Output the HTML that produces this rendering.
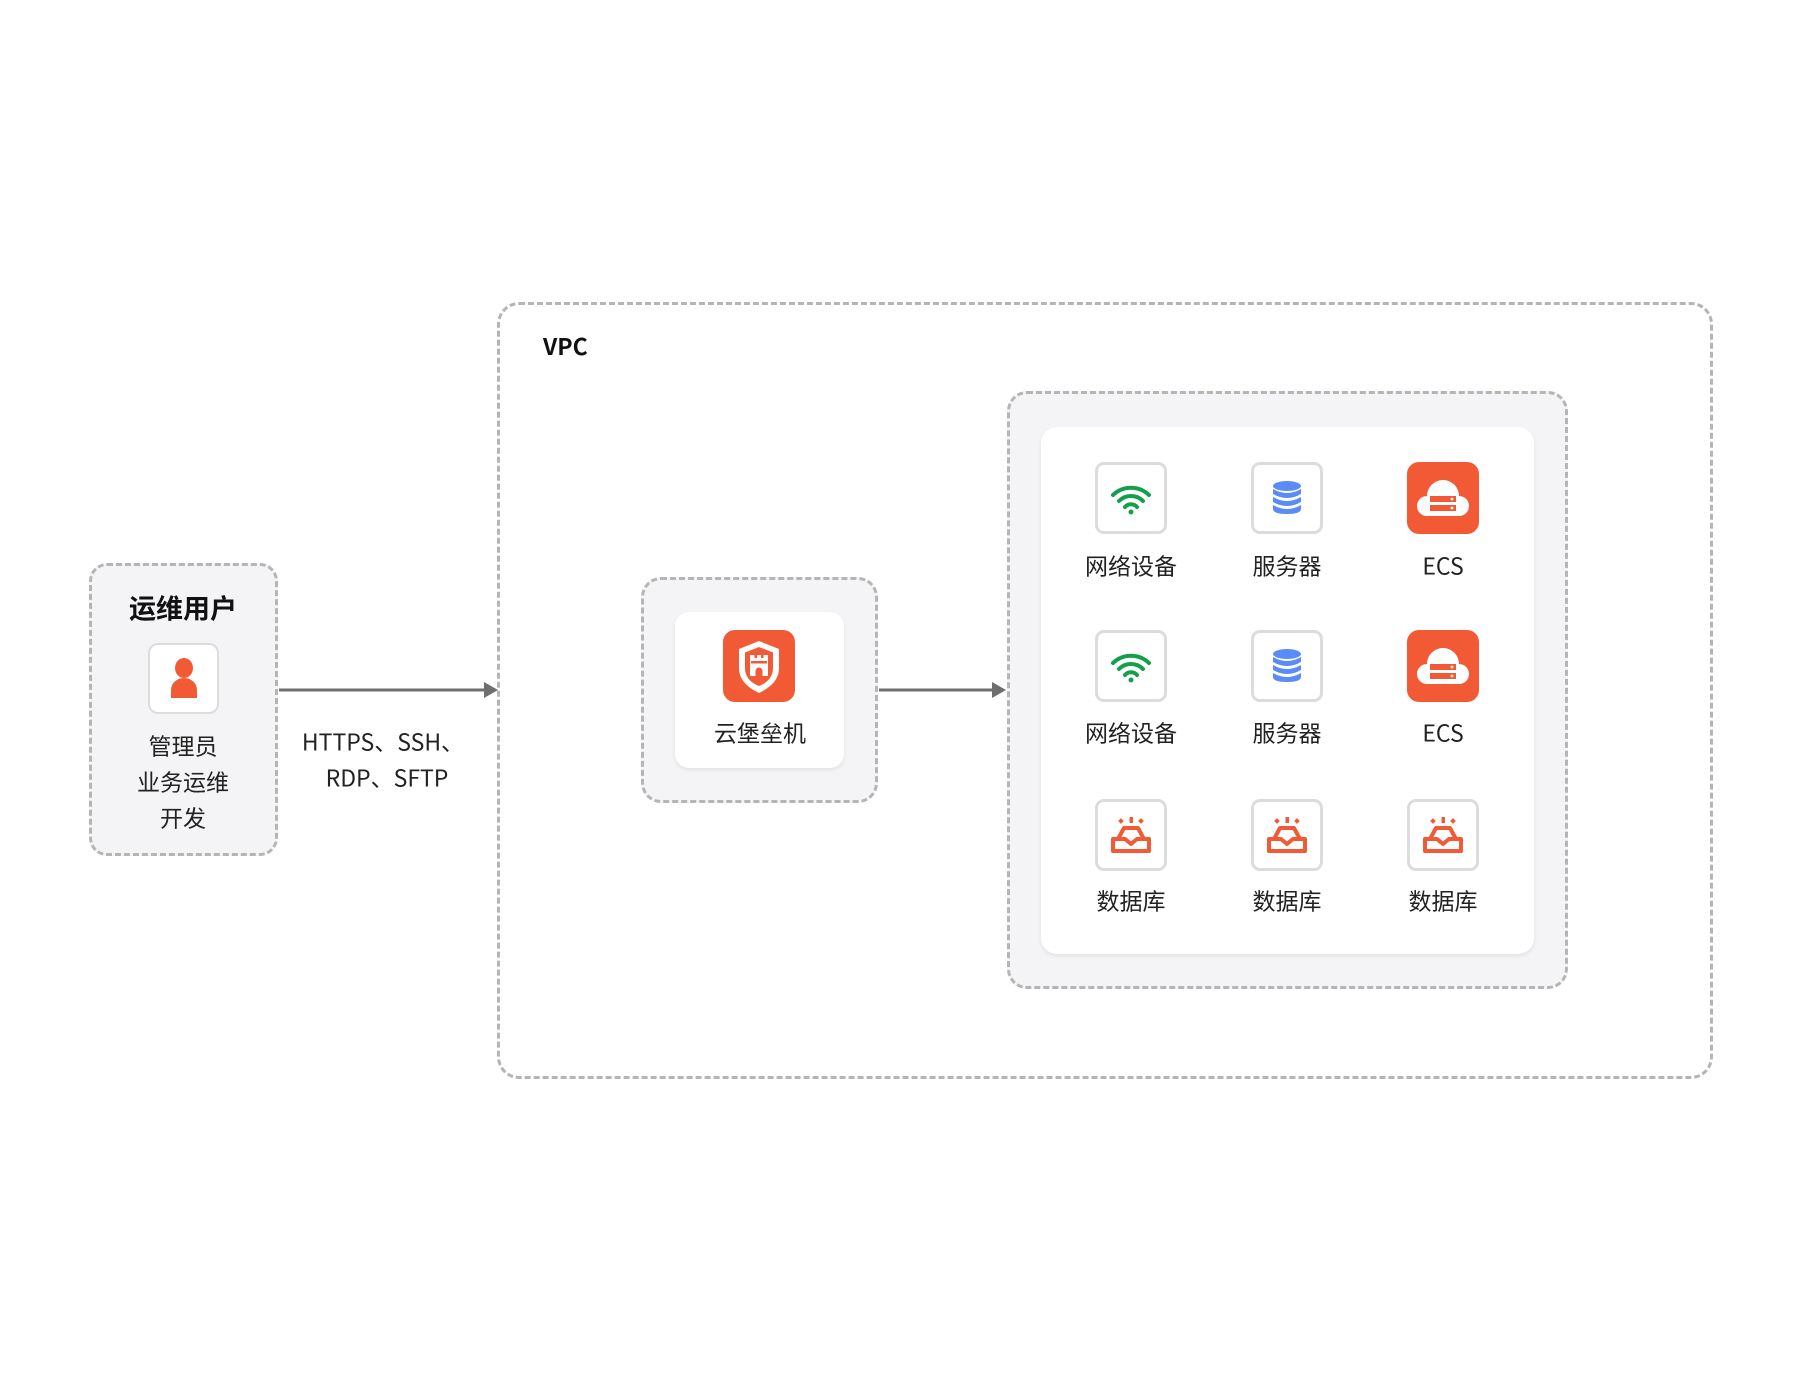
<!DOCTYPE html>
<html><head><meta charset="utf-8">
<style>
html,body{margin:0;padding:0;background:#fff;}
body{width:1800px;height:1380px;position:relative;overflow:hidden;font-family:"Noto Sans CJK SC","Liberation Sans",sans-serif;color:#222;}
.a{position:absolute;box-sizing:border-box;}
.dash{border:3px dashed #b5b5b5;}
.t{position:absolute;text-align:center;white-space:nowrap;transform:translate(-50%,-50%);font-size:23px;line-height:1;}
.ib{position:absolute;width:72px;height:72px;box-sizing:border-box;border:3px solid #dcdcdc;border-radius:9px;background:#fff;}
.ib svg,.io svg{position:absolute;left:-3px;top:-3px;}
.io{position:absolute;width:72px;height:72px;border-radius:12px;background:#f25a36;}
.io svg{left:0;top:0;}
</style></head><body>

<div class="a dash" style="left:89px;top:563px;width:189px;height:293px;border-radius:18px;background:#f4f4f6;"></div>
<div class="t" style="left:183px;top:607px;font-size:27px;font-weight:bold;color:#111;">运维用户</div>
<div class="ib" style="left:148px;top:643px;width:71px;height:71px;border-width:2px;border-radius:10px;">
<svg width="71" height="71" viewBox="0 0 71 71" style="left:-2px;top:-2px"><ellipse cx="36" cy="25" rx="9" ry="10" fill="#f25a36"/><path d="M23 55 V47 a13 12 0 0 1 26 0 V55 Z" fill="#f25a36"/></svg></div>
<div class="t" style="left:183px;top:745px;">管理员</div>
<div class="t" style="left:183px;top:781px;">业务运维</div>
<div class="t" style="left:183px;top:817px;">开发</div>

<svg class="a" style="left:0;top:0" width="1800" height="1380">
<line x1="279" y1="690" x2="487" y2="690" stroke="#6e6e6e" stroke-width="3"/>
<polygon points="484,682 498,690 484,698" fill="#6e6e6e"/>
<line x1="879" y1="690" x2="995" y2="690" stroke="#6e6e6e" stroke-width="3"/>
<polygon points="992,682 1006,690 992,698" fill="#6e6e6e"/>
</svg>
<div class="t" style="left:383px;top:741px;">HTTPS、SSH、</div>
<div class="t" style="left:387px;top:777px;">RDP、SFTP</div>

<div class="a dash" style="left:497px;top:302px;width:1216px;height:777px;border-radius:22px;"></div>
<div class="a" style="left:543px;top:334px;font-size:23px;font-weight:bold;color:#111;line-height:1;">VPC</div>

<div class="a dash" style="left:641px;top:577px;width:237px;height:226px;border-radius:20px;background:#f4f4f6;"></div>
<div class="a" style="left:675px;top:612px;width:169px;height:156px;border-radius:14px;background:#fff;box-shadow:0 2px 4px rgba(0,0,0,0.08);"></div>
<div class="io" style="left:723px;top:630px;width:72px;height:72px;">
<svg width="72" height="72" viewBox="0 0 72 72"><path d="M36 11 L56 19 V38 C56 51 46 58 36 63 C26 58 16 51 16 38 V19 Z" fill="#fff"/><path d="M36 17 L50 22.5 V38 C50 47 44 53 36 56 C28 53 22 47 22 38 V22.5 Z" fill="#f25a36"/><path d="M27 25 h4.5 v3 h2.5 v-3 h4 v3 h2.5 v-3 h4.5 v21 h-18 Z" fill="#fff"/><rect x="28" y="31" width="16" height="2.5" fill="#f25a36"/><path d="M32.5 46 v-5 a3.5 3.5 0 0 1 7 0 v5 Z" fill="#f25a36"/></svg></div>
<div class="t" style="left:760px;top:732px;">云堡垒机</div>

<div class="a dash" style="left:1007px;top:391px;width:561px;height:598px;border-radius:20px;background:#f4f4f6;"></div>
<div class="a" style="left:1041px;top:427px;width:493px;height:527px;border-radius:16px;background:#fff;box-shadow:0 2px 4px rgba(0,0,0,0.08);"></div>

<div class="ib" style="left:1095px;top:462px;"><svg width="72" height="72" viewBox="0 0 72 72"><g fill="none" stroke="#14a04a" stroke-width="4" stroke-linecap="round"><path d="M18 33 a26 26 0 0 1 36 0"/><path d="M24 39 a17 17 0 0 1 24 0"/><path d="M30 45 a8 8 0 0 1 12 0"/></g><circle cx="36" cy="50" r="2.5" fill="#14a04a"/></svg></div>
<div class="ib" style="left:1251px;top:462px;"><svg width="72" height="72" viewBox="0 0 72 72"><g fill="#5b8bf7"><ellipse cx="36" cy="24" rx="14" ry="5"/><path d="M22 27 q14 8 28 0 v5 q-14 8 -28 0Z"/><path d="M22 35 q14 8 28 0 v5 q-14 8 -28 0Z"/><path d="M22 43 q14 8 28 0 v4 q0 5 -14 5 q-14 0 -14 -5Z"/></g></svg></div>
<div class="io" style="left:1407px;top:462px;"><svg width="72" height="72" viewBox="0 0 72 72"><path d="M20 54 a10 10 0 0 1 0 -20 a16 16 0 0 1 32 0 a10 10 0 0 1 0 20 Z" fill="#fff"/><rect x="23" y="34" width="26" height="6" fill="#f25a36"/><rect x="23" y="43" width="26" height="6" fill="#f25a36"/><circle cx="45" cy="37" r="1.4" fill="#fff"/><circle cx="45" cy="46" r="1.4" fill="#fff"/></svg></div>
<div class="t" style="left:1131px;top:565px;">网络设备</div>
<div class="t" style="left:1287px;top:565px;">服务器</div>
<div class="t" style="left:1443px;top:565px;">ECS</div>

<div class="ib" style="left:1095px;top:630px;"><svg width="72" height="72" viewBox="0 0 72 72"><g fill="none" stroke="#14a04a" stroke-width="4" stroke-linecap="round"><path d="M18 33 a26 26 0 0 1 36 0"/><path d="M24 39 a17 17 0 0 1 24 0"/><path d="M30 45 a8 8 0 0 1 12 0"/></g><circle cx="36" cy="50" r="2.5" fill="#14a04a"/></svg></div>
<div class="ib" style="left:1251px;top:630px;"><svg width="72" height="72" viewBox="0 0 72 72"><g fill="#5b8bf7"><ellipse cx="36" cy="24" rx="14" ry="5"/><path d="M22 27 q14 8 28 0 v5 q-14 8 -28 0Z"/><path d="M22 35 q14 8 28 0 v5 q-14 8 -28 0Z"/><path d="M22 43 q14 8 28 0 v4 q0 5 -14 5 q-14 0 -14 -5Z"/></g></svg></div>
<div class="io" style="left:1407px;top:630px;"><svg width="72" height="72" viewBox="0 0 72 72"><path d="M20 54 a10 10 0 0 1 0 -20 a16 16 0 0 1 32 0 a10 10 0 0 1 0 20 Z" fill="#fff"/><rect x="23" y="34" width="26" height="6" fill="#f25a36"/><rect x="23" y="43" width="26" height="6" fill="#f25a36"/><circle cx="45" cy="37" r="1.4" fill="#fff"/><circle cx="45" cy="46" r="1.4" fill="#fff"/></svg></div>
<div class="t" style="left:1131px;top:732px;">网络设备</div>
<div class="t" style="left:1287px;top:732px;">服务器</div>
<div class="t" style="left:1443px;top:732px;">ECS</div>

<div class="ib" style="left:1095px;top:799px;"><svg width="72" height="72" viewBox="0 0 72 72"><g fill="none" stroke="#f25a36" stroke-width="4" stroke-linejoin="round"><path d="M23 40 L29 29 H43 L49 40"/><path d="M18 40 H30 L36 45 L42 40 H54 V52 H18 Z"/></g><rect x="34.5" y="18" width="3.5" height="6" fill="#f25a36"/><rect x="24" y="20" width="4" height="4" transform="rotate(45 26 22)" fill="#f25a36"/><rect x="44" y="20" width="4" height="4" transform="rotate(45 46 22)" fill="#f25a36"/></svg></div>
<div class="ib" style="left:1251px;top:799px;"><svg width="72" height="72" viewBox="0 0 72 72"><g fill="none" stroke="#f25a36" stroke-width="4" stroke-linejoin="round"><path d="M23 40 L29 29 H43 L49 40"/><path d="M18 40 H30 L36 45 L42 40 H54 V52 H18 Z"/></g><rect x="34.5" y="18" width="3.5" height="6" fill="#f25a36"/><rect x="24" y="20" width="4" height="4" transform="rotate(45 26 22)" fill="#f25a36"/><rect x="44" y="20" width="4" height="4" transform="rotate(45 46 22)" fill="#f25a36"/></svg></div>
<div class="ib" style="left:1407px;top:799px;"><svg width="72" height="72" viewBox="0 0 72 72"><g fill="none" stroke="#f25a36" stroke-width="4" stroke-linejoin="round"><path d="M23 40 L29 29 H43 L49 40"/><path d="M18 40 H30 L36 45 L42 40 H54 V52 H18 Z"/></g><rect x="34.5" y="18" width="3.5" height="6" fill="#f25a36"/><rect x="24" y="20" width="4" height="4" transform="rotate(45 26 22)" fill="#f25a36"/><rect x="44" y="20" width="4" height="4" transform="rotate(45 46 22)" fill="#f25a36"/></svg></div>
<div class="t" style="left:1131px;top:900px;">数据库</div>
<div class="t" style="left:1287px;top:900px;">数据库</div>
<div class="t" style="left:1443px;top:900px;">数据库</div>

</body></html>
